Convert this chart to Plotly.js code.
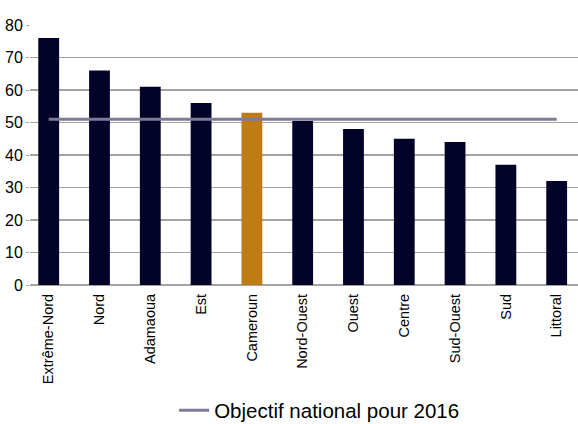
<!DOCTYPE html>
<html>
<head>
<meta charset="utf-8">
<script src="https://cdn.plot.ly/plotly-3.0.1.min.js"></script>
<style>html,body{margin:0;padding:0;background:#fff;}#chart{width:578px;height:424px;}</style>
</head>
<body>
<div id="chart"></div>
<script>
const categories = ["Extrême-Nord","Nord","Adamaoua","Est","Cameroun","Nord-Ouest","Ouest","Centre","Sud-Ouest","Sud","Littoral"];
const values = [76, 66, 61, 56, 53, 50.5, 48, 45, 44, 37, 32];
const highlight = "Cameroun";
const objective = 51;
const objectiveLabel = "Objectif national pour 2016";

const FONT = "'Liberation Sans', Arial, sans-serif";

const barColors = categories.map(c => c === highlight ? "#c07c14" : "#03032a");

const traces = [
  {
    type: "bar",
    x: categories,
    y: values,
    marker: {color: barColors},
    width: 0.41,
    showlegend: false,
    hoverinfo: "x+y"
  },
  {
    type: "scatter",
    mode: "lines",
    x: [categories[0], categories[categories.length - 1]],
    y: [objective, objective],
    line: {color: "#7c7b98", width: 3},
    name: objectiveLabel
  }
];

const layout = {
  width: 578,
  height: 424,
  margin: {l: 30, r: 0, t: 25, b: 139},
  paper_bgcolor: "#ffffff",
  plot_bgcolor: "#ffffff",
  font: {family: FONT, color: "#000000", size: 14},
  showlegend: true,
  legend: {
    orientation: "h",
    xref: "container", yref: "container",
    x: 0.553, xanchor: "center",
    y: 0.032, yanchor: "middle",
    font: {size: 20.5, family: FONT},
    bgcolor: "rgba(0,0,0,0)"
  },
  xaxis: {
    type: "category",
    range: [-0.368, 10.42],
    tickangle: -90,
    showgrid: false,
    showline: false,
    ticks: "",
    ticklabelstandoff: 5,
    tickfont: {size: 14.5, family: FONT},
    automargin: false
  },
  yaxis: {
    range: [0, 80],
    dtick: 10,
    showgrid: true,
    gridcolor: "#a3a3a3",
    gridwidth: 1.5,
    zeroline: true,
    zerolinecolor: "#a3a3a3",
    zerolinewidth: 1.5,
    showline: false,
    ticks: "outside",
    ticklen: 3,
    tickcolor: "#a3a3a3",
    tickfont: {size: 16, family: FONT},
    automargin: false
  }
};

Plotly.newPlot("chart", traces, layout, {displayModeBar: false, staticPlot: true});
</script>
</body>
</html>
